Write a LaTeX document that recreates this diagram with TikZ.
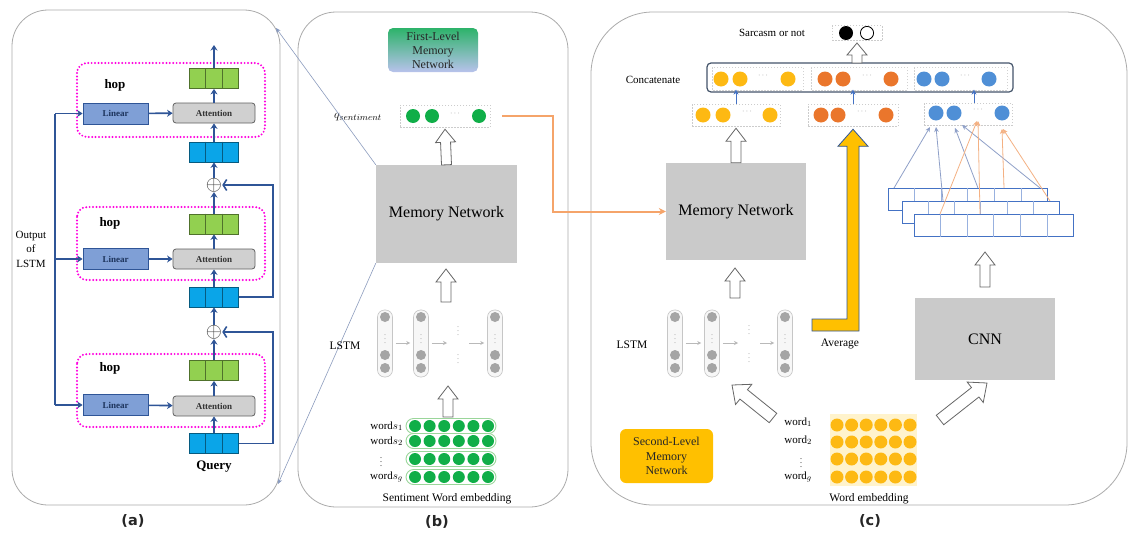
\documentclass[tikz,border=0pt]{standalone}
\usepackage{fontspec}
\setmainfont{Liberation Serif}
\newfontfamily\tagfont{DejaVu Sans}
\usetikzlibrary{arrows.meta,calc}

\definecolor{navy}{HTML}{2F5597}
\definecolor{linfill}{HTML}{7F9FD6}
\definecolor{attfill}{HTML}{D0D0D0}
\definecolor{cellgreen}{HTML}{92D050}
\definecolor{cellblue}{HTML}{0AA5E8}
\definecolor{hopmag}{HTML}{FF00E0}
\definecolor{panelgray}{HTML}{ABABAB}
\definecolor{boxgray}{HTML}{CACACA}
\definecolor{dotgreen}{HTML}{10AE48}
\definecolor{pillgreen}{HTML}{9AD69A}
\definecolor{gold}{HTML}{FFC000}
\definecolor{golddot}{HTML}{FDB913}
\definecolor{palegold}{HTML}{FFF3CC}
\definecolor{orangedot}{HTML}{EA762C}
\definecolor{bluedot}{HTML}{4F8FD6}
\definecolor{linkorange}{HTML}{F5A46A}
\definecolor{mapblue}{HTML}{4472C4}
\definecolor{lstmgray}{HTML}{A5A5A5}
\definecolor{firsttop}{HTML}{2DB36A}
\definecolor{firstbot}{HTML}{B8C2EC}
\definecolor{slate}{HTML}{44546A}
\definecolor{zoomblue}{HTML}{8C9CBE}
\definecolor{thinblue}{HTML}{8FA0C8}
\definecolor{thinorange}{HTML}{F4B183}

% a vector of three coloured cells
\newcommand\cellvec[4]{%
  \node[cellv,fill=#4,draw=#4!55!black] (#1) at (#2,#3) {};
  \draw[#4!55!black,line width=0.8pt]
    ($(#1.north west)!1/3!(#1.north east)$) -- ($(#1.south west)!1/3!(#1.south east)$)
    ($(#1.north west)!2/3!(#1.north east)$) -- ($(#1.south west)!2/3!(#1.south east)$);}

% hollow block arrow: from, to, half shaft, half head, head length
\newcommand\blockarr[5]{%
  \draw[hollow] let \p1=(#1), \p2=(#2),
      \n1={atan2(\y2-\y1,\x2-\x1)}, \n2={veclen(\x2-\x1,\y2-\y1)} in
    [shift={(\p1)},rotate=\n1]
    (0,-#3) -- ({\n2-#5},-#3) -- ({\n2-#5},-#4) -- (\n2,0)
    -- ({\n2-#5},#4) -- ({\n2-#5},#3) -- (0,#3) -- cycle;}

\begin{document}
\begin{tikzpicture}[x=1pt,y=-1pt,
  every node/.style={inner sep=0pt,font=\fontsize{11}{13}\selectfont},
  panel/.style={draw=panelgray,line width=0.8pt},
  paneltag/.style={font=\tagfont\bfseries\fontsize{14.5}{16}\selectfont,text=black!85},
  nav/.style={draw=navy,line width=1.6pt},
  navarr/.style={nav,-{Stealth[length=5.5pt,width=7pt]}},
  fbarr/.style={nav,-{Straight Barb[length=3.5pt,width=11pt]}},
  hop/.style={draw=hopmag,line width=2.2pt,dash pattern=on 0pt off 3.4pt,line cap=round,rounded corners=10},
  hoplabel/.style={font=\bfseries\fontsize{13}{15}\selectfont},
  linbox/.style={draw=navy,fill=linfill,line width=0.8pt,minimum width=65,minimum height=21,
    font=\bfseries\fontsize{9}{10}\selectfont,text=navy!60!black},
  attbox/.style={draw=gray!75!black,fill=attfill,line width=0.8pt,rounded corners=3,minimum width=82,
    minimum height=20,font=\bfseries\fontsize{9}{10}\selectfont,text=black!80},
  cellv/.style={minimum width=49,minimum height=20,line width=0.8pt},
  sumnode/.style={font=\fontsize{22}{22}\selectfont,text=black!75},
  zoomln/.style={draw=zoomblue,line width=0.6pt,-{Stealth[length=5pt,width=4.5pt,fill=mapblue]}},
  mem/.style={fill=boxgray,minimum width=141,minimum height=98,font=\fontsize{16}{18}\selectfont},
  vbox/.style={draw=gray!40,dash pattern=on 1.5pt off 1.5pt,line width=0.5pt,minimum height=22},
  ellip/.style={font=\fontsize{8}{8}\selectfont,text=gray},
  vdot/.style={font=\fontsize{8}{8}\selectfont},
  hollow/.style={draw=black!60,fill=white,line width=0.8pt},
  lstmcol/.style={draw=gray!45,fill=gray!6,rounded corners=7,minimum width=15,minimum height=67,line width=0.6pt},
  garr/.style={draw=gray!55,line width=0.6pt,-{Stealth[length=4pt,width=4pt]}},
  pillrow/.style={draw=pillgreen,fill=white,line width=0.9pt,rounded corners=7.5,minimum width=90,minimum height=15},
  orangeln/.style={draw=linkorange,line width=2pt,-{Stealth[length=7pt,width=7pt]}},
  smallup/.style={draw=mapblue,line width=0.5pt,-{Stealth[length=5pt,width=5pt]}},
  goldarr/.style={fill=gold,draw=navy,line width=0.8pt,line join=miter},
  fmap/.style={draw=mapblue,fill=white,line width=1pt,minimum height=22},
  fcell/.style={draw=mapblue!55,line width=0.6pt},
  bline/.style={draw=thinblue,line width=0.8pt,-{Stealth[length=5pt,width=4.5pt,fill=mapblue]}},
  oline/.style={draw=thinorange,line width=0.8pt,-{Stealth[length=5pt,width=4.5pt,fill=orangedot]}}
]
\useasboundingbox (0,0) rectangle (1130,533);
\fill[white] (0,0) rectangle (1130,533);

% ---------- panel frames and captions ----------
\draw[panel,rounded corners=36] (12,10) rectangle (280,505);
\draw[panel,rounded corners=38] (298,12) rectangle (568,507);
\draw[panel,rounded corners=62] (591,12) rectangle (1127,505);
\node[paneltag] (tagA) at (133,521) {(a)};
\node[paneltag] (tagB) at (437,522) {(b)};
\node[paneltag] (tagC) at (870,521) {(c)};

% ---------- (a) multi-hop memory ----------
\draw[hop] (77,63) rectangle (265,137);
\draw[hop] (77,207) rectangle (265,280);
\draw[hop] (77,354) rectangle (265,427);
\node[hoplabel] (hop1) at (115,85) {hop};
\node[hoplabel] (hop2) at (110,223) {hop};
\node[hoplabel] (hop3) at (110,368) {hop};

\node[linbox] (lin1) at (115.5,113.5) {Linear};
\node[attbox] (att1) at (214,113) {Attention};
\node[linbox] (lin2) at (115.5,259) {Linear};
\node[attbox] (att2) at (214,259) {Attention};
\node[linbox] (lin3) at (115.5,405) {Linear};
\node[attbox] (att3) at (214,406) {Attention};

\cellvec{g1}{214}{78.5}{cellgreen}
\cellvec{b1}{214}{152}{cellblue}
\cellvec{g2}{214}{224}{cellgreen}
\cellvec{b2}{214}{297}{cellblue}
\cellvec{g3}{214}{370.5}{cellgreen}
\cellvec{qv}{214}{443.5}{cellblue}
\node[hoplabel] (qlabel) at (214,467) {Query};

\node[sumnode] (p1) at (214,185) {$\oplus$};
\node[sumnode] (p2) at (214,332) {$\oplus$};
\coordinate (out1) at (214,45);

\draw[navarr] (lin1) -- (att1);
\draw[navarr] (lin2) -- (att2);
\draw[navarr] (lin3) -- (att3);
\draw[navarr] (att1) -- (g1);
\draw[navarr] (g1.north) -- (out1);
\draw[navarr] (b1) -- (att1);
\draw[navarr] (p1) -- (b1);
\draw[navarr] (g2) -- (p1);
\draw[navarr] (att2) -- (g2);
\draw[navarr] (b2) -- (att2);
\draw[navarr] (p2) -- (b2);
\draw[navarr] (g3) -- (p2);
\draw[navarr] (att3) -- (g3);
\draw[navarr] (qv) -- (att3);

\coordinate (rx) at (273,0);
\draw[fbarr] (b2.east) -- (b2.east -| rx) |- (p1.east);
\draw[fbarr] (qv.east) -- (qv.east -| rx) |- (p2.east);

\coordinate (bx) at (55,0);
\draw[nav] (lin1.west -| bx) -- (lin3.west -| bx);
\draw[navarr] (lin1.west -| bx) -- (lin1.west);
\draw[navarr] (lin2.west -| bx) -- (lin2.west);
\draw[navarr] (lin3.west -| bx) -- (lin3.west);
\node[align=center,font=\fontsize{11}{14.5}\selectfont] (outlstm) at (31,249) {Output\\of\\LSTM};

% ---------- (b) first-level memory network ----------
\node[rounded corners=5,top color=firsttop,bottom color=firstbot,minimum width=90,minimum height=44,
  align=center,font=\fontsize{12}{14}\selectfont,text=black!85] (first) at (433,50) {First-Level\\Memory\\Network};

\node[font=\fontsize{13}{15}\selectfont] (qlab) at (358,117) {$q_{sentiment}$};
\node[vbox,minimum width=90] (qvec) at (445,116) {};
\foreach \x in {413,432,479} \fill[dotgreen] (\x,116) circle (7pt);
\node[ellip] (qdots) at (455,114) {$\cdots$};

\node[mem] (memB) at (446.5,214) {Memory Network};
\draw[zoomln] (memB.north west) -- (276,28) coordinate (aTop);
\draw[zoomln] (memB.south west) -- (278,484) coordinate (aBot);

% LSTM chain
\foreach \nm/\x in {lb1/385,lb2/421,lb3/495} {
  \node[lstmcol] (\nm) at (\x,343.5) {};
  \foreach \y in {317,355,368} \fill[lstmgray] (\x,\y) circle (5pt);
  \node[ellip,text=gray!80] at (\x,336) {$\vdots$};
}
\coordinate (lbm) at (458,343);
\node[ellip,text=gray!80] (lbmu) at (458,328) {$\vdots$};
\node[ellip,text=gray!80] (lbmd) at (458,356) {$\vdots$};
\draw[garr] ([xshift=3]lb1.east |- lbm) -- ([xshift=-3]lb2.west |- lbm);
\draw[garr] ([xshift=3]lb2.east |- lbm) -- ([xshift=-11]lbm);
\draw[garr] ([xshift=11]lbm) -- ([xshift=-3]lb3.west |- lbm);
\node[font=\fontsize{11.5}{13}\selectfont] (lstmB) at (345,346) {LSTM};

% sentiment word embedding
\foreach \y [count=\i] in {426,441,459,477} {
  \node[pillrow] (sw\i) at (451,\y) {};
  \foreach \k in {0,...,5} \fill[dotgreen] ({415+14.6*\k},\y) circle (6pt);
}
\node[anchor=east] (swl1) at (403,426) {word$s_1$};
\node[anchor=east] (swl2) at (403,441) {word$s_2$};
\node[vdot] (swl3) at (381,459) {$\vdots$};
\node[anchor=east] (swl4) at (403,477) {word$s_g$};
\node[font=\fontsize{11.5}{13}\selectfont] (swcap) at (447,499) {Sentiment Word embedding};

\coordinate (lstmBtop) at (446,302);
\coordinate (memBin) at (446,269);
\coordinate (embBtop) at (448,417);
\coordinate (lstmBin) at (448,386);
\blockarr{memB.north}{$(qvec.south)+(0,2)$}{5}{10}{13}
\blockarr{lstmBtop}{memBin}{5}{10}{13}
\blockarr{embBtop}{lstmBin}{5}{10}{13}

% ---------- (c) second-level memory network ----------
\node[mem,minimum width=140,minimum height=97] (memC) at (736,211.5) {Memory Network};
\coordinate (oStart) at (502,116);
\coordinate (oBend) at (553,211.5);
\draw[orangeln] (oStart) -| (oBend) -- (memC.west);

% output and concatenation
\node (sarc) at (772,33) {Sarcasm or not};
\node[vbox,minimum width=50,minimum height=15] (outv) at (857,33) {};
\fill[black] (846,33) circle (7pt);
\draw[black,fill=white,line width=0.8pt] (867,33) circle (6.6pt);

\node (concatlab) at (653,80) {Concatenate};
\node[draw=slate,line width=1.2pt,rounded corners=4,minimum width=306,minimum height=29] (concat) at (860,77.5) {};
\foreach \a/\b in {712/803,811/907,914/1007}
  \draw[gray!35,dash pattern=on 1.5pt off 1.5pt,line width=0.5pt] (\a,67) rectangle (\b,90);
\foreach \x in {721,740,788} \fill[golddot] (\x,79) circle (7.5pt);
\foreach \x in {825,843,891} \fill[orangedot] (\x,79) circle (7.5pt);
\foreach \x in {924,942,989} \fill[bluedot] (\x,79) circle (7.5pt);
\node[ellip] at (763,76) {$\cdots$};
\node[ellip] at (867,76) {$\cdots$};
\node[ellip] at (965,76) {$\cdots$};

\node[vbox,minimum width=88] (yvec) at (736,115) {};
\node[vbox,minimum width=90] (ovec) at (853,115) {};
\node[vbox,minimum width=88] (bvec) at (968,114) {};
\foreach \x in {703,723,770} \fill[golddot] (\x,115) circle (7.5pt);
\foreach \x in {821,838,886} \fill[orangedot] (\x,115) circle (7.5pt);
\foreach \x in {936,954,1002} \fill[bluedot] (\x,113) circle (7.5pt);
\node[ellip] at (747,112) {$\cdots$};
\node[ellip] at (862,112) {$\cdots$};
\node[ellip] at (978,110) {$\cdots$};

\draw[smallup] (yvec.north) -- ([yshift=3]yvec.north |- concat.south);
\draw[smallup] (ovec.north) -- ([yshift=3]ovec.north |- concat.south);
\draw[smallup] ([xshift=6]bvec.north) -- ([xshift=6,yshift=3]bvec.north |- concat.south);

\coordinate (catTop) at (857,63);
\coordinate (outIn) at (857,43);
\blockarr{catTop}{outIn}{5}{10}{12}
\blockarr{memC.north}{$(yvec.south)+(0,2)$}{5}{10}{13}

% LSTM chain
\foreach \nm/\x in {lc1/675,lc2/712,lc3/785} {
  \node[lstmcol] (\nm) at (\x,343.5) {};
  \foreach \y in {317,355,368} \fill[lstmgray] (\x,\y) circle (5pt);
  \node[ellip,text=gray!80] at (\x,336) {$\vdots$};
}
\coordinate (lcm) at (749,343);
\node[ellip,text=gray!80] (lcmu) at (749,327) {$\vdots$};
\node[ellip,text=gray!80] (lcmd) at (749,355) {$\vdots$};
\draw[garr] ([xshift=3]lc1.east |- lcm) -- ([xshift=-3]lc2.west |- lcm);
\draw[garr] ([xshift=3]lc2.east |- lcm) -- ([xshift=-11]lcm);
\draw[garr] ([xshift=11]lcm) -- ([xshift=-3]lc3.west |- lcm);
\node[font=\fontsize{11.5}{13}\selectfont] (lstmC) at (632,345) {LSTM};
\coordinate (lstmCtop) at (735,298);
\coordinate (memCin) at (735,268);
\blockarr{lstmCtop}{memCin}{5}{10}{13}

% averaged sentence vector
\coordinate (avgT) at (812,325);
\draw[goldarr] let \p1=(avgT), \p2=($(ovec.south)+(0,3)$) in
  (\x1,\y1+6pt) -- (\x2-6pt,\y1+6pt) -- (\x2-6pt,\y2-17pt) -- (\x2-15pt,\y2-17pt) -- (\x2,\y2)
  -- (\x2+15pt,\y2-17pt) -- (\x2+6pt,\y2-17pt) -- (\x2+6pt,\y1-6pt) -- (\x1,\y1-6pt) -- cycle;
\node[font=\fontsize{11.5}{13}\selectfont] (avglab) at (840,344) {Average};

% word embedding
\fill[palegold] (830,414) rectangle (917,486);
\foreach \y [count=\i] in {425,442,459,477} {
  \foreach \k in {0,...,5} \fill[golddot] ({837+14.6*\k},\y) circle (6.5pt);
}
\node[anchor=east] (wl1) at (812,422) {word$_1$};
\node[anchor=east] (wl2) at (812,440) {word$_2$};
\node[vdot] (wl3) at (801,460) {$\vdots$};
\node[anchor=east] (wl4) at (812,477) {word$_g$};
\node[font=\fontsize{11.5}{13}\selectfont] (wcap) at (869,499) {Word embedding};

\node[fill=gold,rounded corners=6,minimum width=93,minimum height=54,align=center,
  font=\fontsize{12}{14.5}\selectfont,text=black!85] (second) at (666.5,456) {Second-Level\\Memory\\Network};

\coordinate (embCl) at (773,418);
\coordinate (lstmCin) at (732,385);
\blockarr{embCl}{lstmCin}{6}{13}{15}

% CNN branch
\node[mem,minimum width=140,minimum height=82] (cnn) at (985,339) {CNN};
\coordinate (embCr) at (940,420);
\coordinate (cnnIn) at (987,383);
\blockarr{embCr}{cnnIn}{6}{13}{15}
\coordinate (cnnTop) at (985,287);
\coordinate (mapIn) at (985,252);
\blockarr{cnnTop}{mapIn}{5}{10}{13}

\foreach \nm/\cx/\cy/\w in {m1/967.5/199/159,m2/980.5/212/157,m3/993.5/225/159} {
  \node[fmap,minimum width=\w] (\nm) at (\cx,\cy) {};
  \foreach \k in {1,...,5}
    \draw[fcell] ($(\nm.north west)!\k/6!(\nm.north east)$) -- ($(\nm.south west)!\k/6!(\nm.south east)$);
}

\draw[bline] (894,188) -- (930,127);
\draw[bline] (943,201) -- (936,127);
\draw[bline] (978,188) -- (955,128);
\draw[bline] (1040,188) -- (962,125);
\draw[oline] (940,214) -- (977,121);
\draw[oline] (980,214) -- (978,121);
\draw[oline] (1004,188) -- (1002,129);
\draw[oline] (1050,201) -- (1003,129);
\end{tikzpicture}
\end{document}
